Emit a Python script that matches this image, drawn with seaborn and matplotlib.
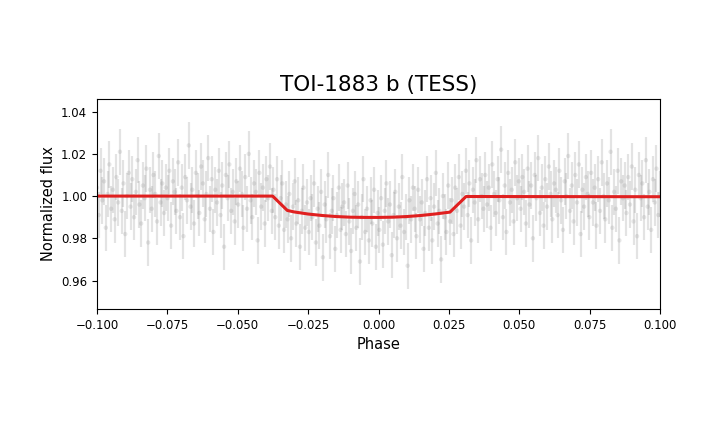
import numpy as np
import matplotlib
matplotlib.use('Agg')
import matplotlib.pyplot as plt
import seaborn as sns

# phase-folded TESS photometry (flux values, evenly cadenced in phase)
flux = [
    1.004, 0.991, 1.012, 0.998, 1.007, 0.985, 1.001, 1.015, 0.994, 1.003, 0.989, 1.009, 0.997, 1.021, 0.993, 1.006, 0.982, 1.000, 1.011, 0.995,
    1.008, 0.990, 1.002, 1.017, 0.996, 0.987, 1.005, 0.999, 1.013, 0.978, 1.003, 0.994, 1.010, 1.001, 0.988, 1.019, 0.997, 1.006, 0.992, 1.004,
    0.999, 1.012, 0.986, 1.007, 1.002, 0.993, 1.016, 0.990, 1.004, 0.981, 1.009, 0.998, 1.024, 0.995, 1.003, 0.987, 1.011, 1.000, 0.992, 1.014,
    1.006, 0.989, 1.001, 1.018, 0.994, 1.008, 0.983, 1.003, 0.997, 1.012, 0.991, 1.005, 0.976, 1.010, 0.999, 1.015, 0.993, 1.002, 0.988, 1.007,
    0.996, 1.013, 1.001, 0.985, 1.009, 0.994, 1.020, 0.998, 0.990, 1.006, 1.002, 0.979, 1.011, 0.995, 1.004, 0.987, 1.008, 0.999, 1.014, 0.993,
    1.003, 0.990, 1.008, 0.986, 0.999, 1.006, 0.984, 0.996, 0.989, 1.001, 0.980, 0.995, 1.007, 0.987, 0.998, 0.976, 0.993, 1.004, 0.985, 0.997,
    0.983, 0.999, 0.990, 1.006, 0.978, 0.994, 0.986, 1.002, 0.971, 0.996, 0.989, 1.010, 0.981, 0.993, 0.999, 0.975, 0.991, 1.004, 0.984, 0.995,
    0.997, 0.982, 1.005, 0.988, 0.974, 0.993, 1.001, 0.985, 0.996, 0.969, 0.990, 1.008, 0.983, 0.994, 0.979, 0.998, 0.987, 1.003, 0.976, 0.992,
    0.984, 0.999, 0.977, 0.993, 1.006, 0.988, 0.996, 0.972, 0.991, 1.002, 0.980, 0.995, 0.986, 1.009, 0.983, 0.990, 0.967, 0.998, 0.989, 1.004,
    0.994, 0.981, 1.003, 0.989, 0.997, 0.975, 0.992, 1.008, 0.985, 0.999, 0.979, 0.995, 1.011, 0.987, 0.993, 0.970, 1.000, 0.990, 0.983, 1.005,
    0.988, 0.998, 0.982, 1.004, 0.993, 1.009, 0.986, 1.001, 0.995, 1.012, 0.991, 1.006, 0.979, 1.003, 0.997, 1.017, 0.989, 1.008, 1.000, 0.994,
    1.010, 0.996, 1.004, 0.985, 1.015, 1.001, 0.992, 1.008, 0.998, 1.022, 0.990, 1.005, 0.983, 1.011, 0.997, 1.003, 0.988, 1.016, 0.999, 1.007,
    0.994, 1.009, 1.002, 0.987, 1.013, 0.996, 1.005, 0.980, 1.010, 0.999, 1.018, 0.992, 1.004, 0.986, 1.008, 0.995, 1.014, 1.001, 0.989, 1.006,
    1.003, 0.991, 1.012, 0.998, 0.984, 1.007, 1.000, 1.019, 0.993, 1.005, 0.988, 1.010, 0.997, 1.015, 0.982, 1.003, 0.995, 1.009, 1.001, 0.990,
    1.011, 0.997, 1.004, 0.986, 1.008, 0.993, 1.016, 1.000, 0.989, 1.006, 0.998, 1.021, 0.985, 1.002, 0.994, 1.012, 0.979, 1.007, 0.999, 1.005,
    0.992, 1.009, 0.996, 1.014, 0.988, 1.003, 0.981, 1.010, 0.999, 1.006, 0.990, 1.017, 0.995, 1.002, 0.984, 1.008, 0.997, 1.013, 0.991, 1.001,
]
flux_err = 0.011
phase = np.linspace(-0.1, 0.1, len(flux))

# transit model
model_phase = [-0.1, -0.0376, -0.0324, -0.030, -0.025, -0.020, -0.015, -0.010, -0.005, 0.000,
               0.005, 0.010, 0.015, 0.020, 0.0254, 0.0311, 0.1]
model_flux = [1.0000, 1.0000, 0.9932, 0.9925, 0.9915, 0.9908, 0.9903, 0.9900, 0.9899, 0.9899,
              0.9900, 0.9903, 0.9908, 0.9915, 0.9924, 0.9998, 0.9997]

fig = plt.figure(figsize=(7.25, 4.23), dpi=100)
ax = fig.add_axes([97 / 725, 1 - 309 / 423, 563 / 725, 210 / 423])

ax.errorbar(phase, flux, yerr=flux_err, fmt='none', ecolor='gray', elinewidth=1.6, alpha=0.22)
sns.scatterplot(x=phase, y=flux, color='gray', s=10, alpha=0.18, edgecolor='none', ax=ax)
sns.lineplot(x=model_phase, y=model_flux, color='#e02020', linewidth=2.2, ax=ax)

ax.set_xlim(-0.1, 0.1)
ax.set_ylim(0.9465, 1.046)
ax.set_xticks([-0.1, -0.075, -0.05, -0.025, 0, 0.025, 0.05, 0.075, 0.1])
ax.set_yticks([0.96, 0.98, 1.00, 1.02, 1.04])
ax.tick_params(labelsize=8.5)
ax.set_xlabel('Phase', fontsize=10.5)
ax.set_ylabel('Normalized flux', fontsize=10.5)
ax.set_title('TOI-1883 b (TESS)', fontsize=15.5)

fig.savefig('out.png', dpi=100)
